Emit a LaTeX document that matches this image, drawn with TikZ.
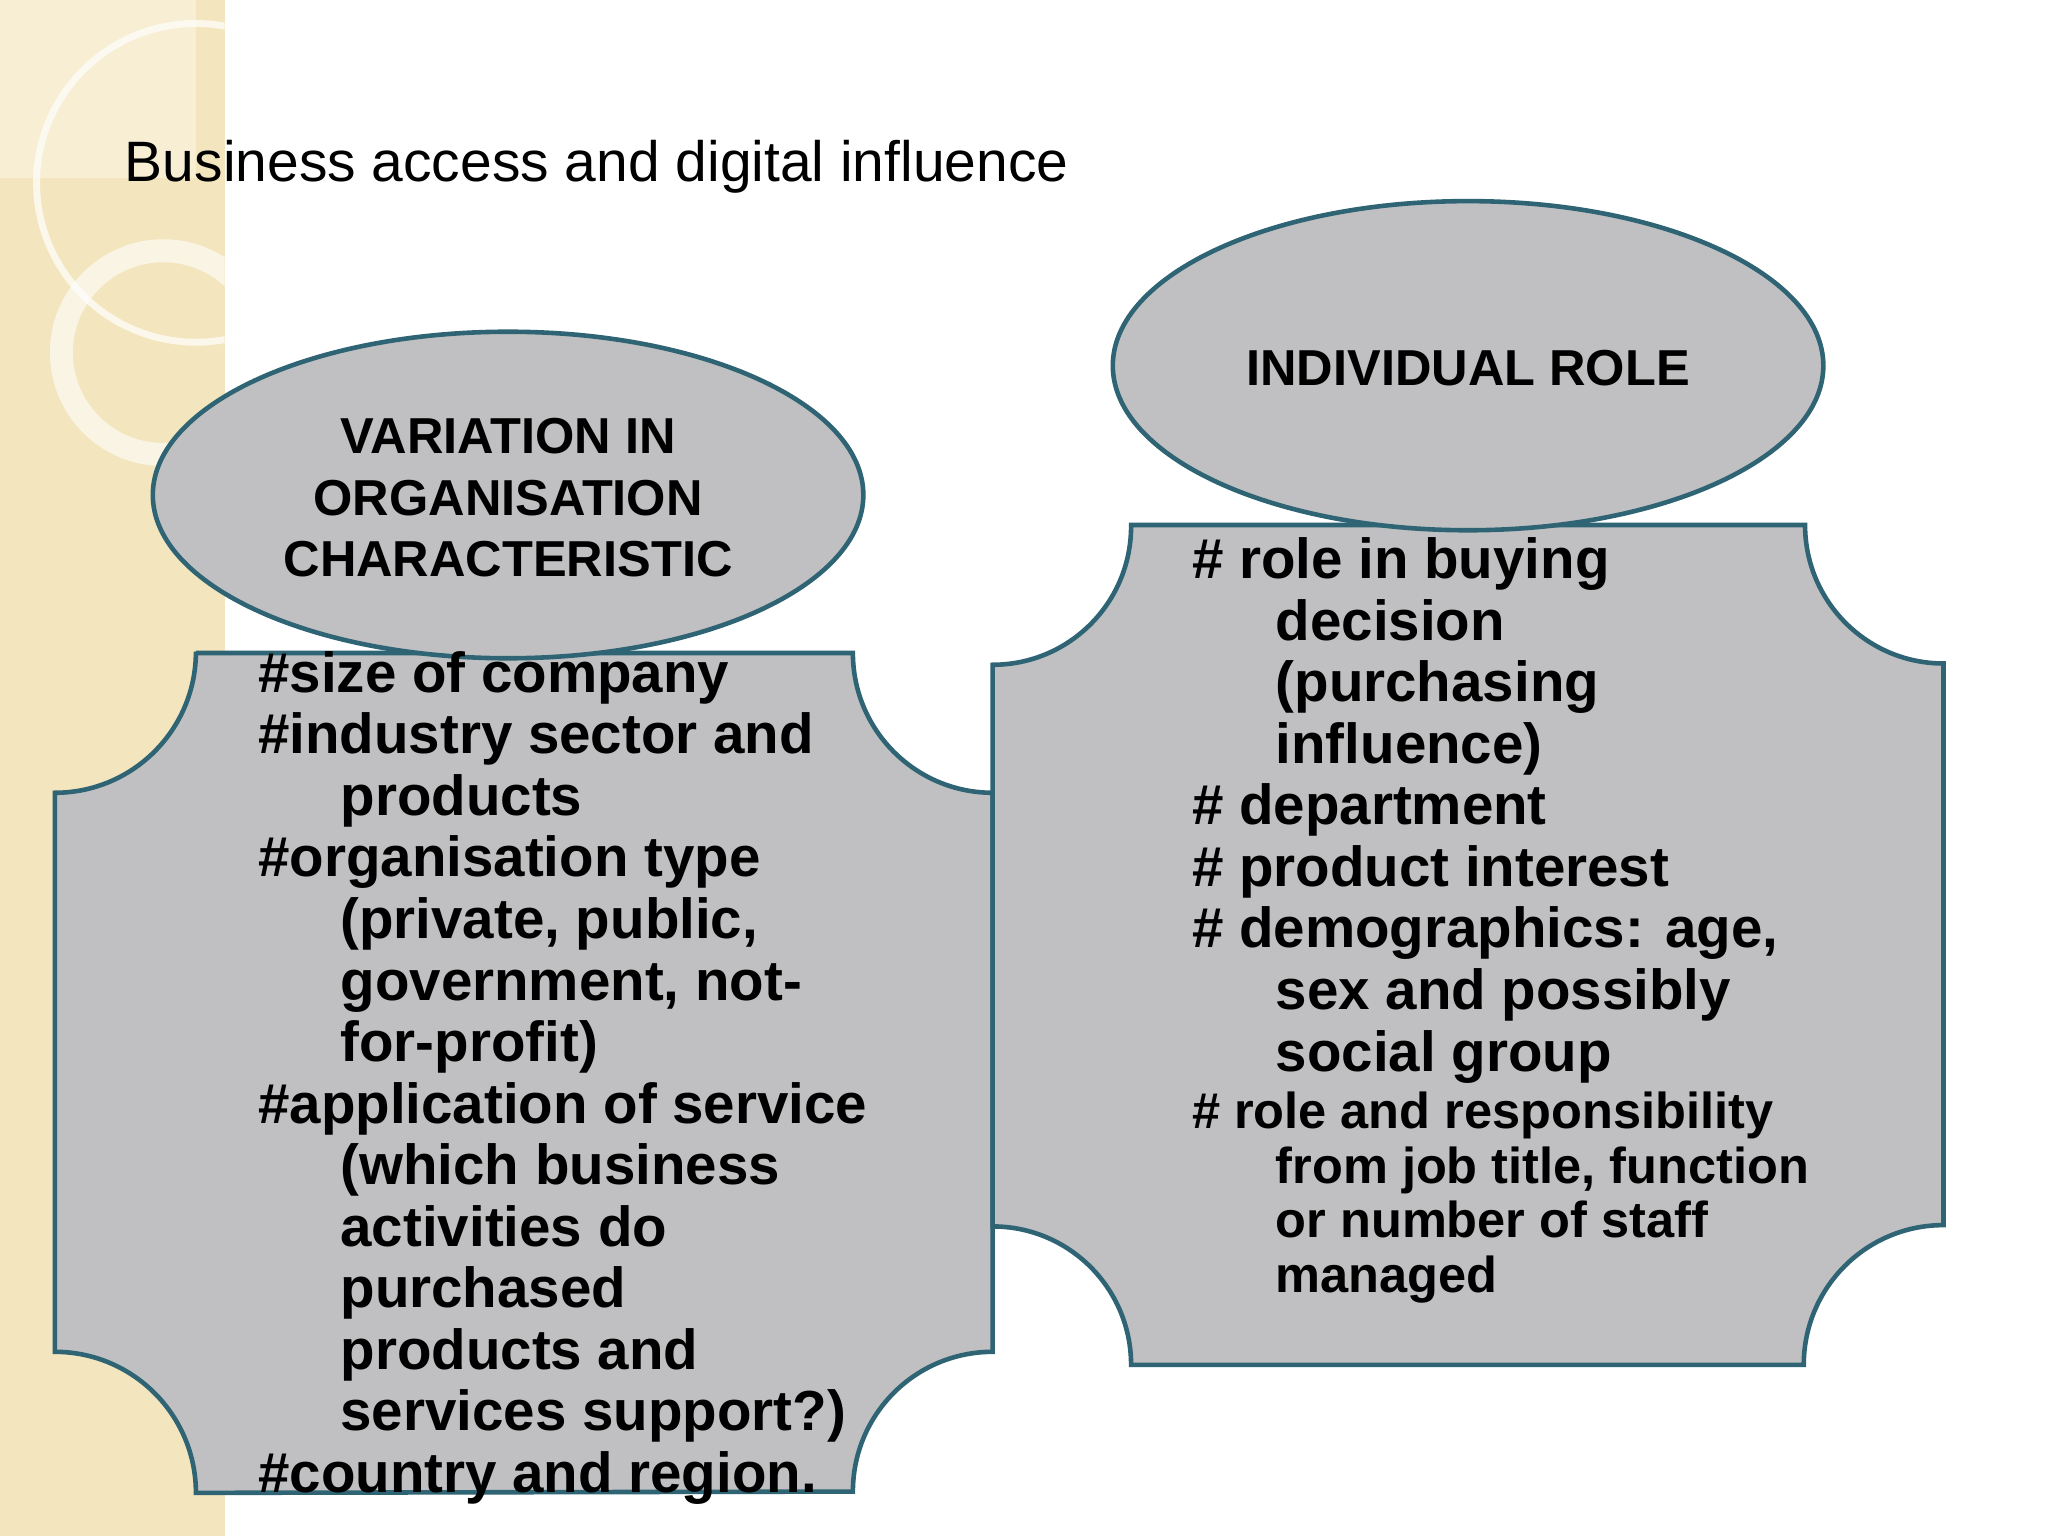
\documentclass[tikz,border=0pt]{standalone}
\usepackage{fontspec}
\setmainfont{Liberation Sans}
\definecolor{panel}{HTML}{C0C0C2}
\definecolor{edge}{HTML}{2F6474}
\definecolor{cream}{HTML}{F3E5BE}
\begin{document}
\begin{tikzpicture}[x=0.01cm,y=0.01cm,
  shp/.style={fill=panel,draw=edge,line width=1pt},
  body/.style={anchor=north west,inner sep=0pt,align=left,font=\bfseries\fontsize{12.3}{13.4}\selectfont},
  eltext/.style={align=center,font=\bfseries\fontsize{11}{13.3}\selectfont}]
\useasboundingbox (0,0) rectangle (1568,1176);
\fill[white] (0,0) rectangle (1568,1176);
\fill[cream] (0,0) rectangle (172,1176);
\begin{scope}
\clip (0,0) rectangle (172,1176);
\draw[white,opacity=0.7,line width=1.5pt] (150,1036) circle (122);
\draw[white,opacity=0.6,line width=5pt] (125,906) circle (78);
\fill[white,opacity=0.35] (0,1040) rectangle (150,1176);
\end{scope}
\node[anchor=west,inner sep=0pt,font=\fontsize{12.4}{14}\selectfont] (title) at (95,1048) {Business access and digital influence};
% left panel
\draw[shp] (150,676) -- (653,676) arc[start angle=180,end angle=270,radius=107] -- (760,141)
  arc[start angle=90,end angle=180,radius=107] -- (150,33)
  arc[start angle=0,end angle=90,radius=108] -- (42,569)
  arc[start angle=270,end angle=360,radius=108] -- cycle;
% right panel
\draw[shp] (866,774) -- (1382,774) arc[start angle=180,end angle=270,radius=106] -- (1488,238)
  arc[start angle=90,end angle=180,radius=107] -- (866,131)
  arc[start angle=0,end angle=90,radius=106] -- (760,667)
  arc[start angle=270,end angle=360,radius=106] -- cycle;
\draw[shp] (389,797) ellipse[x radius=272,y radius=125];
\draw[shp] (1124,896) ellipse[x radius=272,y radius=126];
\node[eltext] (e1) at (389,795) {VARIATION IN\\ORGANISATION\\CHARACTERISTIC};
\node[eltext] (e2) at (1124,894) {INDIVIDUAL ROLE};
\node[body] (t1) at (197,678) {\#size of company\\\#industry sector and\\\hspace*{0.63cm}products\\\#organisation type\\\hspace*{0.63cm}(private, public,\\\hspace*{0.63cm}government, not-\\\hspace*{0.63cm}for-profit)\\\#application of service\\\hspace*{0.63cm}(which business\\\hspace*{0.63cm}activities do\\\hspace*{0.63cm}purchased\\\hspace*{0.63cm}products and\\\hspace*{0.63cm}services support?)\\\#country and region.};
\node[body] (t2) at (912,765) {\# role in buying\\\hspace*{0.64cm}decision\\\hspace*{0.64cm}(purchasing\\\hspace*{0.64cm}influence)\\\# department\\\# product interest\\\# demographics: age,\\\hspace*{0.64cm}sex and possibly\\\hspace*{0.64cm}social group};
\node[body,font=\bfseries\fontsize{11}{11.95}\selectfont] (t3) at (912,341) {\# role and responsibility\\\hspace*{0.64cm}from job title, function\\\hspace*{0.64cm}or number of staff\\\hspace*{0.64cm}managed};
\end{tikzpicture}
\end{document}
